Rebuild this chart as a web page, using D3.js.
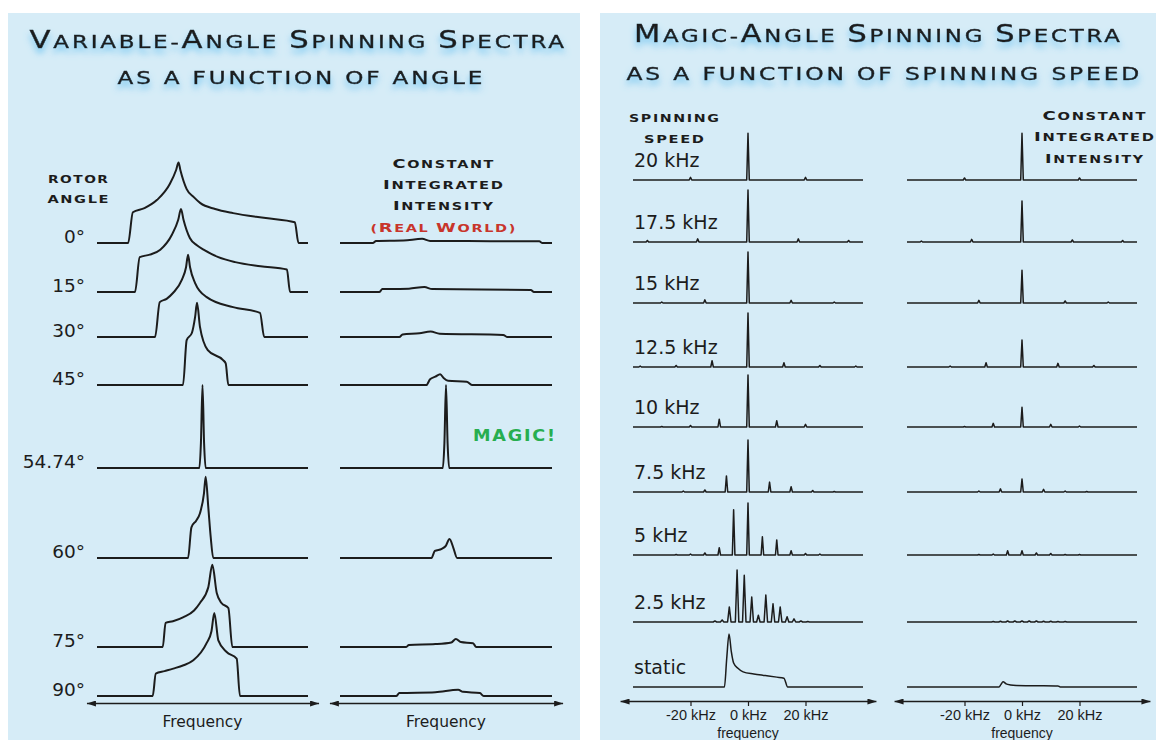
<!DOCTYPE html>
<html>
<head>
<meta charset="utf-8">
<script src="https://cdn.jsdelivr.net/npm/d3@7"></script>
<style>
  body { margin: 0; background: #fff; }
  svg { display: block; }
</style>
</head>
<body>
<div id="chart"></div>
<script>
// ---- data ----
// left panel: frequency in arbitrary units (-100..100), intensity in % of the magic-angle line
const angleLabels = ["0°", "15°", "30°", "45°", "54.74°", "60°", "75°", "90°"];

const angleSpectra = [
  [[-100,0],[-70.5,0],[-66,37],[-55,42],[-43,52],[-31,71],[-25,88],[-22.7,97],[-21,88],[-15,65],[-8,55],[-2,48],[12,41],[29,36],[60,30],[87.5,25],[91,0],[100,0]],
  [[-100,0],[-64,0],[-59.5,42],[-50,45],[-40,51],[-29,69],[-23,87],[-20.4,100],[-18,87],[-12,65],[-5,56],[1,51],[15,42],[31,36],[55,31],[80,27],[83,0],[100,0]],
  [[-100,0],[-45,0],[-40.5,42],[-34,46],[-28,53],[-19.5,69],[-15.6,84],[-13.7,99],[-11.8,84],[-7,65],[4,48],[29,36],[54.5,29],[58.5,0],[100,0]],
  [[-100,0],[-18.5,0],[-15,54],[-10,63],[-7,82],[-5.2,99],[-2.4,70],[5,42],[19.5,30],[22,26],[24.5,0],[100,0]],
  [[-100,0],[-3,0],[-1.5,30],[0,100],[1.5,30],[3,0],[100,0]],
  [[-100,0],[-13.7,0],[-10.5,37],[-6,45],[-2.4,54],[1.4,78],[3,98],[5.5,61],[7.8,25],[10.2,0],[100,0]],
  [[-100,0],[-37.7,0],[-35,29],[-28,31],[-18,36],[-8,44],[-2.4,53],[5.5,72],[9.3,99],[13.5,65],[18,53],[24.5,47],[28.3,0],[100,0]],
  [[-100,0],[-47.2,0],[-44.3,27],[-36,30],[-27.7,33],[-18,37],[-8.7,43],[4,64],[8.5,78],[11.2,100],[15,67],[22.9,53],[32.4,45],[35.5,0],[100,0]]
];

const realWorldSpectra = [
  [[-100,0],[-69,0],[-66,2.5],[-40,3],[-22.5,5],[-15,2.5],[88,2],[91,0],[100,0]],
  [[-100,0],[-63,0],[-60,3.5],[-35,4],[-20.4,6],[-13,3.5],[80,2.5],[83,0],[100,0]],
  [[-100,0],[-44,0],[-41,3],[-25,4.5],[-14.5,6.5],[-6,4],[54,2.5],[58,0],[100,0]],
  [[-100,0],[-18.5,0],[-15,7],[-10,10],[-5.5,13],[-2,8],[2,5],[19.5,4],[24.5,0],[100,0]],
  [[-100,0],[-3,0],[-1.5,30],[0,100],[1.5,30],[3,0],[100,0]],
  [[-100,0],[-13.7,0],[-10.5,8.5],[-4,11],[0,15],[3.3,23],[7,12],[10.5,0],[100,0]],
  [[-100,0],[-37.5,0],[-35,2.5],[-10,3.5],[5,5.5],[9.3,9.6],[14,6],[25.5,4.5],[28.5,0],[100,0]],
  [[-100,0],[-47,0],[-44,3.5],[-10,4.5],[11.5,7.5],[16,5],[32,3.5],[35.5,0],[100,0]]
];

// right panel: sideband position (kHz), intensity (% of a full centre line)
const speedLabels = ["20 kHz", "17.5 kHz", "15 kHz", "12.5 kHz", "10 kHz", "7.5 kHz", "5 kHz", "2.5 kHz", "static"];

const sidebandsScaled = [
  [[-20,5],[0,90],[20,5]],
  [[-35,3],[-17.5,6],[0,100],[17.5,6],[35,3]],
  [[-30,2],[-15,6],[0,98],[15,5],[30,2]],
  [[-37.5,2],[-25,3],[-12.5,12],[0,104],[12.5,8],[25,3],[37.5,2]],
  [[-30,1],[-20,3],[-10,15],[0,100],[10,12],[20,5]],
  [[-22.5,2],[-15,4],[-7.5,31],[0,100],[7.5,19],[15,10],[22.5,3],[30,1]],
  [[-25,1],[-20,2],[-15,4],[-10,14],[-5,87],[0,100],[5,35],[10,29],[15,8],[20,3],[25,2]],
  [[-11.5,2],[-9,4],[-6.5,29],[-3.8,100],[-1.3,90],[1.3,48],[3.6,13],[6.2,52],[8.7,35],[11.2,29],[13.6,10],[16,6],[18.4,2],[20.8,1]]
];

const sidebandsConstant = [
  [[-20,4],[0,90],[20,4]],
  [[-35,2],[-17.5,5],[0,79],[17.5,4],[35,3]],
  [[-15,5],[0,63],[15,4],[30,2]],
  [[-25,2],[-12.5,8],[0,52],[12.5,7],[25,3]],
  [[-20,1],[-10,7],[0,38],[10,5],[20,2]],
  [[-15,2],[-7.5,6],[0,25],[7.5,5],[15,2],[22.5,1]],
  [[-15,1],[-10,2],[-5,8],[0,8],[5,4],[10,3],[15,1],[20,1]],
  [[-10,1],[-7.5,1.5],[-5,2],[-2.5,2],[0,2],[2.5,2],[5,2],[7.5,1.5],[10,1.5],[12.5,1],[15,1]]
];

const staticScaled = [[-40,0],[-8.2,0],[-7.4,55],[-6.6,102],[-5.8,68],[-5,46],[-3.5,36],[-1.7,29],[2,25],[6,22],[10,19],[12.5,17],[13.8,0],[40,0]];
const staticConstant = [[-40,0],[-8,0],[-7.3,5],[-6.6,10],[-5.5,6],[-4,4],[-2,3],[5,2.5],[12.5,2],[13.3,0],[40,0]];

const kHzTicks = [-20, 0, 20];

// ---- layout ----
const W = 1156, H = 740;
const rowYAngle = [243, 292, 337, 385, 468, 558, 647, 696];
const rowYSpeed = [180, 242, 303, 367, 427, 492, 555, 622, 687];
const INK = "#1c1c1c";

const svg = d3.select("#chart").append("svg").attr("width", W).attr("height", H);
const defs = svg.append("defs");

// blue blurred glow under the titles
const glow = defs.append("filter").attr("id", "glow")
  .attr("x", "-10%").attr("y", "-60%").attr("width", "120%").attr("height", "240%");
glow.append("feGaussianBlur").attr("in", "SourceAlpha").attr("stdDeviation", 3).attr("result", "b");
glow.append("feOffset").attr("in", "b").attr("dy", 5).attr("result", "o");
glow.append("feFlood").attr("flood-color", "#6cc3f0").attr("flood-opacity", 0.95).attr("result", "c");
glow.append("feComposite").attr("in", "c").attr("in2", "o").attr("operator", "in").attr("result", "s");
const merge = glow.append("feMerge");
merge.append("feMergeNode").attr("in", "s");
merge.append("feMergeNode").attr("in", "SourceGraphic");

defs.append("marker").attr("id", "arrow")
    .attr("viewBox", "0 0 10 10").attr("refX", 10).attr("refY", 5)
    .attr("markerWidth", 9).attr("markerHeight", 6).attr("markerUnits", "userSpaceOnUse")
    .attr("preserveAspectRatio", "none").attr("orient", "auto-start-reverse")
  .append("path").attr("d", "M0,0L10,5L0,10z").attr("fill", INK);

// panels
svg.append("rect").attr("x", 8).attr("y", 13).attr("width", 572).attr("height", 727).attr("fill", "#d6ecf7");
svg.append("rect").attr("x", 600).attr("y", 13).attr("width", 556).attr("height", 727).attr("fill", "#d6ecf7");

// helpers for the wide copperplate-like small caps
const isUpper = c => c !== c.toLowerCase();
function capsText(str, big, small) {
  const t = svg.append("text").attr("font-family", "DejaVu Sans");
  let i = 0;
  while (i < str.length) {
    const up = isUpper(str[i]);
    let j = i;
    while (j < str.length && isUpper(str[j]) === up) j++;
    t.append("tspan").attr("font-size", up ? big : small).text(str.slice(i, j).toUpperCase());
    i = j;
  }
  return t;
}
// widen the glyphs so the text spans `width`, centred on cx
function stretch(t, cx, y, width, ls) {
  t.attr("x", 0).attr("y", 0).style("letter-spacing", ls + "px");
  const w = t.node().getComputedTextLength() - ls;
  t.attr("transform", `translate(${cx - width / 2},${y}) scale(${width / w},1)`);
  return t;
}
function title(str, cx, y, width) {
  stretch(capsText(str, 24, 18).attr("fill", INK).attr("stroke", INK).attr("stroke-width", 0.45)
    .attr("filter", "url(#glow)"), cx, y, width, 2.2);
}
function header(str, cx, y, width, big, small, color) {
  stretch(capsText(str, big, small).attr("font-weight", "bold").attr("fill", color || INK),
    cx, y, width, 1.2);
}

title("Variable-Angle Spinning Spectra", 297, 48, 535);
title("as a function of angle", 300, 84, 365);
title("Magic-Angle Spinning Spectra", 877, 42, 486);
title("as a function of spinning speed", 883, 80, 513);

// ---- left panel ----
const xA = d3.scaleLinear().domain([-100, 100]).range([97, 308]);
const xRW = d3.scaleLinear().domain([-100, 100]).range([340, 552]);
const hA = d3.scaleLinear().domain([0, 100]).range([0, 83]);

header("ROTOR", 78, 183, 60, 11, 11);
header("ANGLE", 78, 203, 61, 11, 11);
header("Constant", 443, 168, 101, 13, 10.5);
header("Integrated", 443, 189, 120, 13, 10.5);
header("Intensity", 443, 210, 100, 13, 10.5);
header("(Real World)", 443, 232, 145, 13, 10.5, "#c8352b");

const gA = svg.append("g");
function drawLineshapes(x, spectra) {
  gA.selectAll(null).data(spectra).enter().append("path")
    .attr("fill", "none").attr("stroke", INK).attr("stroke-width", 2).attr("stroke-linejoin", "round")
    .attr("d", (d, i) => d3.line()
      .x(p => x(p[0]))
      .y(p => rowYAngle[i] - hA(p[1]))
      .curve(d3.curveMonotoneX)(d));
}
drawLineshapes(xA, angleSpectra);
drawLineshapes(xRW, realWorldSpectra);

gA.selectAll(".alab").data(angleLabels).enter().append("text")
  .attr("x", 85).attr("y", (d, i) => rowYAngle[i])
  .attr("text-anchor", "end").attr("font-family", "DejaVu Sans").attr("font-size", 18.5)
  .attr("fill", INK).text(d => d);

stretch(svg.append("text").attr("font-family", "DejaVu Sans").attr("font-weight", "bold")
  .attr("font-size", 15).attr("fill", "#27ae4f").text("MAGIC!"), 514, 441, 82, 1.5);

function arrowAxis(x, lo, hi, y) {
  const s = x.copy().domain([lo, hi]).range([x(lo), x(hi)]);
  const g = svg.append("g").attr("transform", `translate(0,${y})`)
    .call(d3.axisBottom(s).tickValues([]).tickSizeOuter(0));
  g.select(".domain").attr("stroke", INK).attr("stroke-width", 1.3)
    .attr("marker-start", "url(#arrow)").attr("marker-end", "url(#arrow)");
  return g;
}
arrowAxis(xA, -110, 110, 703);
arrowAxis(xRW, -110, 110, 703);
[xA, xRW].forEach(x => {
  svg.append("text").attr("x", x(0)).attr("y", 727).attr("text-anchor", "middle")
    .attr("font-family", "DejaVu Sans").attr("font-size", 15.5).attr("fill", INK).text("Frequency");
});

// ---- right panel ----
const xS = d3.scaleLinear().domain([-40, 40]).range([633, 863]);
const xSC = d3.scaleLinear().domain([-40, 40]).range([907, 1137]);
const hS = d3.scaleLinear().domain([0, 100]).range([0, 52]);

header("SPINNING", 674, 122, 90, 10.5, 10.5);
header("SPEED", 674, 143, 60, 10.5, 10.5);
header("Constant", 1094, 120, 103, 13, 10.5);
header("Integrated", 1094, 141, 120, 13, 10.5);
header("Intensity", 1094, 163, 98, 13, 10.5);

function stickPoints(peaks, w) {
  const pts = [[-40, 0]];
  peaks.forEach(p => pts.push([p[0] - w, 0], [p[0], p[1]], [p[0] + w, 0]));
  pts.push([40, 0]);
  return pts;
}
const gS = svg.append("g");
function drawSidebands(x, sets) {
  gS.selectAll(null).data(sets).enter().append("path")
    .attr("fill", "none").attr("stroke", INK).attr("stroke-width", 1.5).attr("stroke-linejoin", "round")
    .attr("d", (d, i) => d3.line()
      .x(p => x(p[0]))
      .y(p => rowYSpeed[i] - hS(p[1]))(stickPoints(d, i === 7 ? 0.6 : 0.45)));
}
drawSidebands(xS, sidebandsScaled);
drawSidebands(xSC, sidebandsConstant);

[[xS, staticScaled], [xSC, staticConstant]].forEach(([x, d]) => {
  gS.append("path").attr("fill", "none").attr("stroke", INK).attr("stroke-width", 1.5)
    .attr("d", d3.line().x(p => x(p[0])).y(p => rowYSpeed[8] - hS(p[1])).curve(d3.curveMonotoneX)(d));
});

gS.selectAll(".slab").data(speedLabels).enter().append("text")
  .attr("x", 634).attr("y", (d, i) => rowYSpeed[i] - 13)
  .attr("font-family", "DejaVu Sans").attr("font-size", 19).attr("fill", INK).text(d => d);

[xS, xSC].forEach(x => {
  const s = x.copy().domain([-44.5, 44.5]).range([x(-44.5), x(44.5)]);
  const g = svg.append("g").attr("transform", "translate(0,701)")
    .call(d3.axisBottom(s).tickValues(kHzTicks).tickSize(5).tickSizeOuter(0).tickPadding(4)
      .tickFormat(d => d + " kHz"));
  g.select(".domain").attr("stroke", INK).attr("stroke-width", 1.3)
    .attr("marker-start", "url(#arrow)").attr("marker-end", "url(#arrow)");
  g.selectAll(".tick line").attr("stroke", INK).attr("stroke-width", 1.2);
  g.selectAll(".tick text").attr("font-family", "Liberation Sans").attr("font-size", 14.5).attr("fill", INK);
  svg.append("text").attr("x", x(0)).attr("y", 738).attr("text-anchor", "middle")
    .attr("font-family", "Liberation Sans").attr("font-size", 14).attr("fill", INK).text("frequency");
});
</script>
</body>
</html>
